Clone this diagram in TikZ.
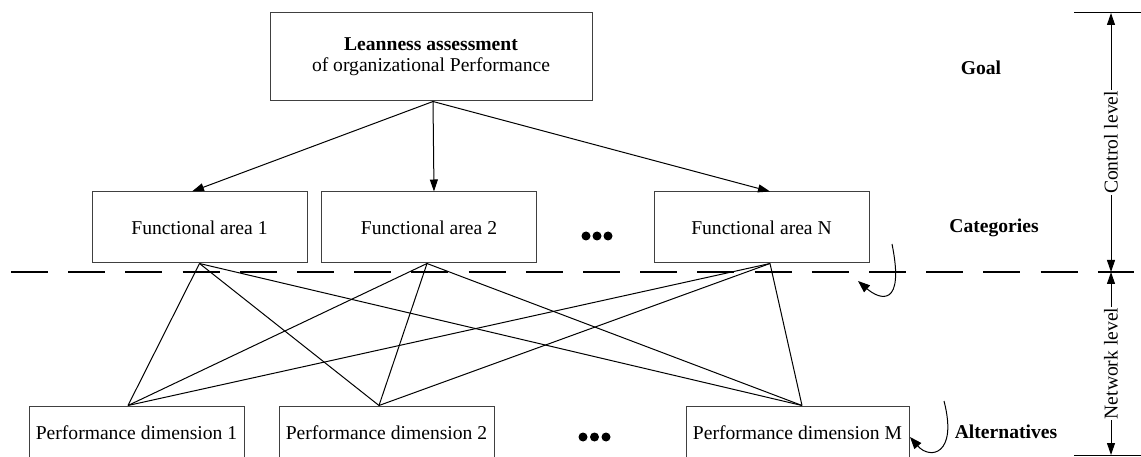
\documentclass[tikz,border=0pt]{standalone}
\usepackage{fontspec}
\setmainfont{Liberation Serif}
\usetikzlibrary{arrows.meta,calc}
\begin{document}
\begin{tikzpicture}[x=1pt,y=-1pt,
  txt/.style={font=\fontsize{19.6}{21}\selectfont},
  box/.style={txt, draw=black!75, line width=1pt, minimum width=215pt,
    minimum height=71pt, inner sep=0pt, align=center},
  lbl/.style={font=\fontsize{19.6}{21}\selectfont\bfseries},
  link/.style={line width=1pt},
  tip/.style={-{Triangle[length=12pt,width=8pt]}},
  arr/.style={link, tip},
  dotmark/.style={circle, fill, inner sep=0pt, minimum size=9pt},
  dimarr/.style={line width=1pt,
    {Triangle[length=12pt,width=8pt]}-{Triangle[length=12pt,width=8pt]}},
  vlabel/.style={txt, fill=white, rotate=90, inner sep=1pt}]
\useasboundingbox (0,0) rectangle (1141,457);
\clip (0,0) rectangle (1141,457);

% goal
\node[box, minimum width=322pt, minimum height=88pt] (goal) at (431,57)
  {\textbf{Leanness assessment}\\of organizational Performance};

% categories
\node[box] (fa1) at (199.5,227.5) {Functional area 1};
\node[box] (fa2) at (429,227.5) {Functional area 2};
\node[box] (fan) at (761.5,227.5) {Functional area N};

% alternatives (boxes run past the lower edge)
\node[box, minimum height=54pt] (pd1) at (136.5,433) {Performance dimension 1};
\node[box, minimum height=54pt] (pd2) at (386.5,433) {Performance dimension 2};
\node[box, minimum width=223pt, minimum height=54pt] (pdm) at (797.5,433) {Performance dimension M};

% ellipses
\node[dotmark] (c1) at (586,236) {};
\node[dotmark] (c2) at (597,236) {};
\node[dotmark] (c3) at (608,236) {};
\node[dotmark] (e1) at (583,437) {};
\node[dotmark] (e2) at (594.5,437) {};
\node[dotmark] (e3) at (606,437) {};

% level names
\node[lbl] (lgoal) at (981,68) {Goal};
\node[lbl] (lcat) at (994,228) {Categories};
\node[lbl] (lalt) at (1006,432) {Alternatives};

% anchor points of the connectors
\coordinate (gout) at ([xshift=2pt]goal.south);
\coordinate (fa1in) at ([xshift=-7.5pt]fa1.north);
\coordinate (fa2in) at ([xshift=5pt]fa2.north);
\coordinate (fanin) at ([xshift=8.5pt]fan.north);
\coordinate (fa1out) at (fa1.south);
\coordinate (fa2out) at ([xshift=-2pt]fa2.south);
\coordinate (fanout) at ([xshift=8.5pt]fan.south);
\coordinate (pd1in) at ([xshift=-8.5pt]pd1.north);
\coordinate (pd2in) at ([xshift=-7.5pt]pd2.north);
\coordinate (pdmin) at ([xshift=4.5pt]pdm.north);

% goal to categories
\draw[arr] (gout) -- (fa1in);
\draw[arr] (gout) -- (fa2in);
\draw[arr] (gout) -- (fanin);

% categories to alternatives
\foreach \f in {fa1out,fa2out,fanout}
  \foreach \p in {pd1in,pd2in,pdmin}
    \draw[link] (\f) -- (\p);

% boundary between control and network levels
\coordinate (dl) at (11,272);
\coordinate (dr) at (1134,272);
\draw[line width=2.5pt, dash pattern=on 37pt off 20.2pt] (dl) -- (dr);

% feedback loops
\coordinate (l1s) at (892,244);
\coordinate (l1e) at (858,281);
\draw[link, -{Triangle[length=12pt,width=9pt]}] (l1s) .. controls (905,308) and (880,300) .. (l1e);
\coordinate (l2s) at (944,401);
\coordinate (l2e) at (910,437);
\draw[link, -{Triangle[length=12pt,width=9pt]}] (l2s) .. controls (958,455) and (930,460) .. (l2e);

% level dimensions on the right
\coordinate (t1) at (1074,13);
\coordinate (t2) at (1141,13);
\coordinate (b1) at (1074,455);
\coordinate (b2) at (1141,455);
\coordinate (ctop) at (1111,13);
\coordinate (cmid) at (1111,272);
\coordinate (cbot) at (1111,455);
\draw[link] (t1) -- (t2);
\draw[link] (b1) -- (b2);
\draw[dimarr] (ctop) -- (cmid) node[midway, vlabel] {Control level};
\draw[dimarr] (cmid) -- (cbot) node[midway, vlabel] {Network level};
\end{tikzpicture}
\end{document}
